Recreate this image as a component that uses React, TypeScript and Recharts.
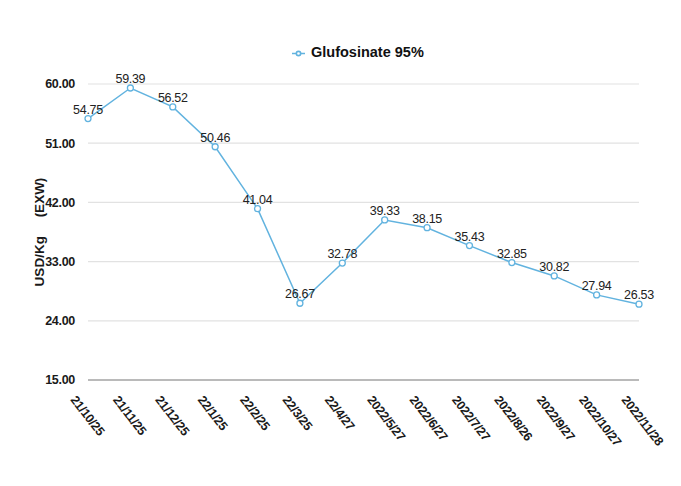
import React from "react";
import {
  CartesianGrid,
  LabelList,
  Legend,
  Line,
  LineChart,
  XAxis,
  YAxis,
} from "recharts";

const dates = [
  "21/10/25",
  "21/11/25",
  "21/12/25",
  "22/1/25",
  "22/2/25",
  "22/3/25",
  "22/4/27",
  "2022/5/27",
  "2022/6/27",
  "2022/7/27",
  "2022/8/26",
  "2022/9/27",
  "2022/10/27",
  "2022/11/28",
];
const prices = [
  54.75, 59.39, 56.52, 50.46, 41.04, 26.67, 32.78, 39.33, 38.15, 35.43, 32.85,
  30.82, 27.94, 26.53,
];
const yTicks = [15, 24, 33, 42, 51, 60];

const chartData = dates.map((d, i) => ({ date: d, price: prices[i] }));

const FONT = "'Liberation Sans', Arial, Helvetica, sans-serif";
const LINE = "#62b3df";
const FRAME = "#4d7fd6";

// rotated date labels, anchored a bit left of the tick like the original
function DateTick(props: any) {
  const { x, y, payload } = props;
  const tx = x - 18;
  const ty = y + 12;
  return (
    <text
      x={tx}
      y={ty}
      transform={`rotate(52 ${tx} ${ty})`}
      textAnchor="start"
      fontFamily={FONT}
      fontSize={12.5}
      fontWeight="bold"
      letterSpacing={-0.3}
      fill="#1a1a1a"
    >
      {payload.value}
    </text>
  );
}

export default function App() {
  return (
    <div
      style={{
        position: "relative",
        width: 681,
        height: 486,
        margin: -8,
        overflow: "hidden",
        background: "#fff",
      }}
    >
      <LineChart
        width={681}
        height={486}
        data={chartData}
        margin={{ top: 84, right: 42, bottom: 0, left: 28 }}
      >
        <CartesianGrid vertical={false} stroke="#e2e2e2" strokeWidth={1.2} />
        <XAxis
          dataKey="date"
          interval={0}
          tickLine={false}
          axisLine={{ stroke: "#a8a8a8", strokeWidth: 1.5 }}
          tick={<DateTick />}
          height={106}
        />
        <YAxis
          domain={[15, 60]}
          ticks={yTicks}
          width={60}
          tickLine={false}
          axisLine={false}
          tickMargin={7}
          tickFormatter={(v: number) => v.toFixed(2)}
          tick={{
            fill: "#1a1a1a",
            fontSize: 12.5,
            fontWeight: "bold",
            fontFamily: FONT,
            letterSpacing: -0.3,
          }}
          label={{
            content: () => (
              <text
                x={40}
                y={232}
                transform="rotate(-90 40 232)"
                textAnchor="middle"
                dominantBaseline="middle"
                fontFamily={FONT}
                fontSize={13.5}
                fontWeight="bold"
                fill="#1a1a1a"
                style={{ whiteSpace: "pre" }}
              >
                {"USD/Kg     (EXW)"}
              </text>
            ),
          }}
        />
        <Legend
          layout="horizontal"
          verticalAlign="middle"
          align="center"
          iconSize={13}
          wrapperStyle={{
            top: 44,
            left: 292,
            width: "auto",
            fontFamily: FONT,
            fontSize: 14.5,
            fontWeight: "bold",
          }}
          formatter={(value: string) => (
            <span style={{ color: "#111", marginLeft: 2 }}>{value}</span>
          )}
        />
        <Line
          type="linear"
          dataKey="price"
          name="Glufosinate 95%"
          stroke={LINE}
          strokeWidth={1.5}
          dot={{ r: 3, stroke: LINE, strokeWidth: 1.3, fill: "#fff" }}
          activeDot={false}
          isAnimationActive={false}
        >
          <LabelList
            dataKey="price"
            position="top"
            offset={5}
            formatter={(v: number) => v.toFixed(2)}
            style={{
              fill: "#222",
              fontSize: 12.5,
              fontFamily: FONT,
              letterSpacing: -0.3,
            }}
          />
        </Line>
      </LineChart>
      <div
        style={{
          position: "absolute",
          left: 3,
          top: 6,
          width: 720,
          height: 520,
          borderLeft: `2px solid ${FRAME}`,
          borderTop: `2px solid ${FRAME}`,
          pointerEvents: "none",
        }}
      />
    </div>
  );
}
